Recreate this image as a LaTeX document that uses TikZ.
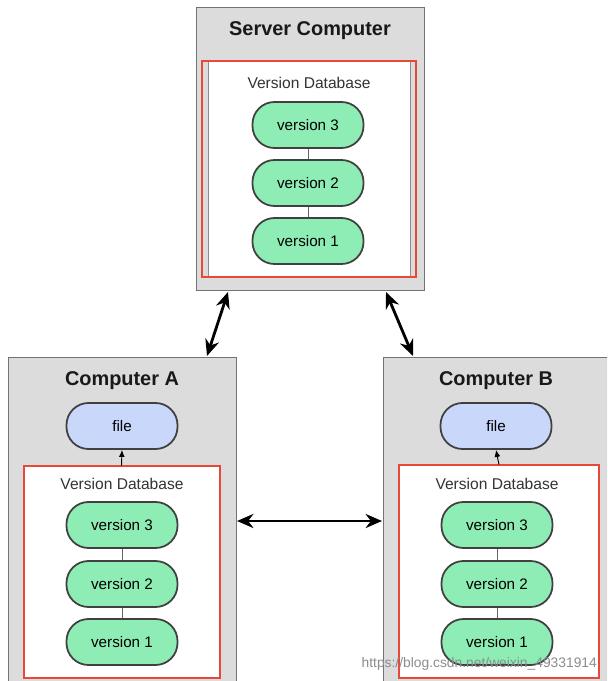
\documentclass[tikz,border=0pt]{standalone}
\usepackage{fontspec}
\setmainfont{Liberation Sans}
\usetikzlibrary{arrows.meta,positioning}
\definecolor{boxgray}{HTML}{DCDCDC}
\definecolor{vgreen}{HTML}{8EEDB4}
\definecolor{fblue}{HTML}{C9D7FB}
\definecolor{markred}{HTML}{E8483A}
\begin{document}
\begin{tikzpicture}[x=0.03cm,y=-0.03cm,
  machine/.style={draw=black!55,fill=boxgray,line width=0.8pt},
  dbbox/.style={draw=black!45,fill=white,line width=0.6pt},
  redframe/.style={draw=markred,line width=1.3pt},
  boxtitle/.style={font=\fontsize{17}{20}\selectfont\bfseries,text=black!90},
  dblabel/.style={font=\fontsize{13.3}{16}\selectfont,text=black!80},
  ver/.style={draw=black!75,line width=1.5pt,fill=vgreen,rounded corners=0.66cm,
    minimum width=3.33cm,minimum height=1.38cm,font=\fontsize{13}{15}\selectfont},
  fileb/.style={ver,fill=fblue},
  link/.style={<->,>={Stealth[length=14pt,width=12pt]},line width=2.4pt},
  up/.style={-{Latex[length=6pt,width=5pt]},line width=0.8pt}]
	\useasboundingbox (0,0) rectangle (607,681);
	\clip (0,0) rectangle (607,681);
	\fill[white] (0,0) rectangle (607,681);

	% server
	\node[machine,minimum width=6.84cm,minimum height=8.49cm] (server) at (310,148.5) {};
	\node[boxtitle] (stitle) at (310,31) {Server Computer};
	\node[dbbox,minimum width=6.06cm,minimum height=6.51cm] (sdb) at (309,168.5) {};
	\draw[redframe] (202,61) rectangle (416,277);
	\node[dblabel] (slabel) at (309,83) {Version Database};
	\node[ver] (sv3) at (308,125) {version 3};
	\node[ver] (sv2) at (308,183) {version 2};
	\node[ver] (sv1) at (308,241) {version 1};
	\draw[black!60] (sv3)--(sv2) (sv2)--(sv1);

	% computer A
	\node[machine,minimum width=6.84cm,minimum height=10.29cm] (compA) at (122,528.5) {};
	\node[boxtitle] (atitle) at (122,381) {Computer A};
	\node[fileb] (afile) at (122,426) {file};
	\node[dbbox,minimum width=5.85cm,minimum height=6.36cm] (adb) at (121.5,572) {};
	\draw[redframe] (24,466) rectangle (220,678);
	\node[dblabel] (alabel) at (122,484) {Version Database};
	\node[ver] (av3) at (122,525) {version 3};
	\node[ver] (av2) at (122,584) {version 2};
	\node[ver] (av1) at (122,642) {version 1};
	\draw[black!60] (av3)--(av2) (av2)--(av1);
	\draw[up] (adb.north) -- (afile.south);

	% computer B
	\node[machine,minimum width=7.41cm,minimum height=10.29cm] (compB) at (506.5,528.5) {};
	\node[boxtitle] (btitle) at (496,381) {Computer B};
	\node[fileb] (bfile) at (496,426) {file};
	\node[dbbox,minimum width=6cm,minimum height=6.39cm] (bdb) at (499,571.5) {};
	\draw[redframe] (399,465) rectangle (599,678);
	\node[dblabel] (blabel) at (497,484) {Version Database};
	\node[ver] (bv3) at (497,525) {version 3};
	\node[ver] (bv2) at (497,584) {version 2};
	\node[ver] (bv1) at (497,642) {version 1};
	\draw[black!60] (bv3)--(bv2) (bv2)--(bv1);
	\draw[up] (bdb.north) -- (bfile.south);

	% links
	\coordinate (s1) at (228,292);
	\coordinate (a1) at (207,356);
	\coordinate (s2) at (386,292);
	\coordinate (b1) at (413,356);
	\coordinate (a2) at (237,521);
	\coordinate (b2) at (382,521);
	\draw[link] (s1) -- (a1);
	\draw[link] (s2) -- (b1);
	\draw[link] (a2) -- (b2);

	\node[text=black!45,font=\fontsize{11.8}{14}\selectfont,anchor=east] (wm) at (601,664) {https://blog.csdn.net/weixin\_49331914};
\end{tikzpicture}
\end{document}
